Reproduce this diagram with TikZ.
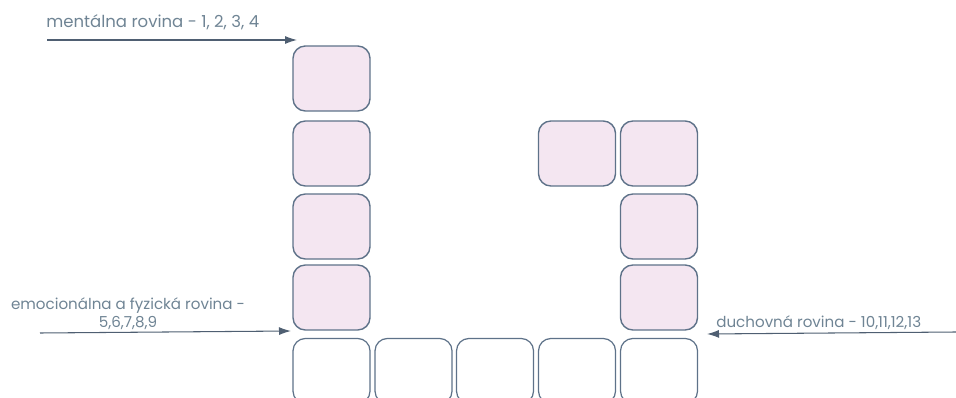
\documentclass[tikz,border=0pt]{standalone}
\usepackage{fontspec}
\setmainfont{Poppins}
\usetikzlibrary{arrows.meta,positioning}
\definecolor{tileFill}  {HTML}{F4E6F1}
\definecolor{tileEdge}  {HTML}{5E7289}
\definecolor{labelGray} {HTML}{6F8494}
\definecolor{arrowGray} {HTML}{4F5F72}
\tikzset{
  font=\fontsize{8.6}{10.4}\selectfont,
  arrow/.style={-{Latex[length=2.4mm,width=1.6mm]},draw=arrowGray,line width=0.6pt},
  tile/.style={rectangle,rounded corners=7pt,draw=tileEdge,line width=0.8pt,fill=tileFill,
    minimum width=1.54cm,minimum height=1.30cm,inner sep=0pt},
  slot/.style={rectangle,rounded corners=7pt,draw=tileEdge,line width=0.7pt,fill=white,
    minimum width=1.54cm,minimum height=1.30cm,inner sep=0pt},
  label/.style={text=labelGray,inner sep=0pt,align=center},
}

\begin{document}
\begin{tikzpicture}[x=0.02cm,y=-0.02cm]

\useasboundingbox (0,0) rectangle (956,398);
\clip (0,0) rectangle (956,398);

% left column (mental)
\node[tile] (m1) at (331.5,78.5) {};
\node[tile] (m2) at (331.5,153.5) {};
\node[tile] (m3) at (331.5,226.5) {};
\node[tile] (m4) at (331.5,297.5) {};

% right column (spiritual)
\node[tile] (d1) at (577,153.5) {};
\node[tile] (d2) at (659,153.5) {};
\node[tile] (d3) at (659,226.5) {};
\node[tile] (d4) at (659,297.5) {};

% bottom row
\node[slot] (e1) at (331.5,371) {};
\node[slot] (e2) at (413.5,371) {};
\node[slot] (e3) at (495,371) {};
\node[slot] (e4) at (577,371) {};
\node[slot] (e5) at (659,371) {};

% labels
\node[label,anchor=west,font=\fontsize{9.4}{11}\selectfont] (lMent) at (46,22) {mentálna rovina - 1, 2, 3, 4};
\node[label] (lEmo) at (128,314) {emocionálna a fyzická rovina -\\5,6,7,8,9};
\node[label,anchor=west] (lDuch) at (716,323) {duchovná rovina - 10,11,12,13};

\coordinate (mStart) at (47,40);
\coordinate (mEnd) at (297,40);
\coordinate (eStart) at (40,333);
\coordinate (eEnd) at (291,331);
\coordinate (dStart) at (956,332);
\coordinate (dEnd) at (707,334);

\draw[arrow] (mStart) -- (mEnd);
\draw[arrow] (eStart) -- (eEnd);
\draw[arrow] (dStart) -- (dEnd);

\end{tikzpicture}
\end{document}
